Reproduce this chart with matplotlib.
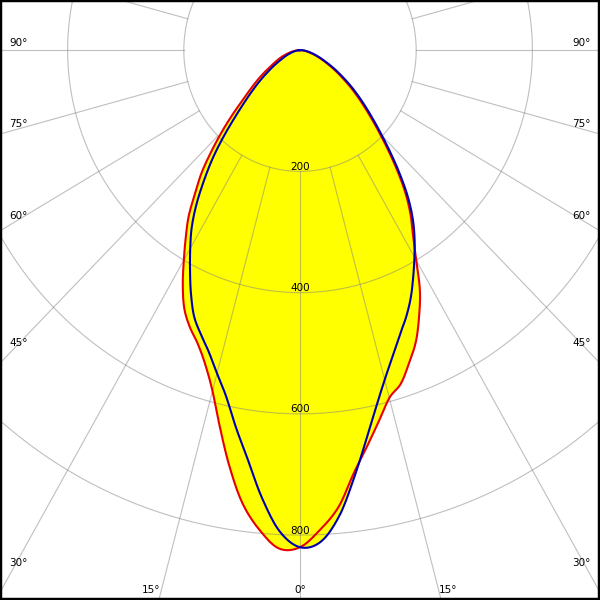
import numpy as np
import matplotlib
matplotlib.use('Agg')
import matplotlib.pyplot as plt
from matplotlib.patches import Rectangle
from matplotlib.transforms import IdentityTransform

# luminous intensity (cd) per gamma angle
gamma = np.arange(0, 92.5, 2.5)
red_left = [820, 823, 795, 755, 698, 637, 582, 543, 515, 495, 471, 437, 400, 366, 334, 296,
            263, 225, 190, 158, 130, 110, 94, 80, 67, 56, 48, 41, 35, 29, 23, 18, 14, 10, 7, 4, 2]
red_right = [820, 792, 757, 705, 664, 627, 594, 577, 549, 521, 485, 447, 400, 362, 332, 299,
             262, 226, 194, 167, 144, 124, 106, 89, 75, 62, 51, 42, 34, 27, 21, 16, 12, 9, 6, 4, 2]
blue_left = [820, 795, 743, 683, 633, 586, 552, 522, 499, 476, 444, 410, 378, 347, 311, 272,
             235, 197, 162, 134, 112, 94, 78, 64, 53, 43, 35, 29, 24, 19, 15, 12, 9, 6, 4, 2, 1]
blue_right = [820, 812, 772, 712, 654, 604, 563, 530, 501, 477, 451, 422, 394, 367, 338, 305,
              268, 232, 200, 173, 150, 130, 112, 95, 80, 67, 55, 45, 37, 30, 24, 19, 15, 11, 8, 5, 3]

rings = [200, 400, 600, 800]
spoke_angles = np.arange(0, 360, 15)
side_labels = [30, 45, 60, 75, 90]
bottom_labels = [15, 0, 15]


def catmull(vals, n=10):
    v = np.asarray(vals, float)
    p = np.concatenate([[v[0]], v, [v[-1]]])
    out = []
    for i in range(len(v) - 1):
        p0, p1, p2, p3 = p[i], p[i + 1], p[i + 2], p[i + 3]
        u = np.linspace(0, 1, n, endpoint=False)
        out.append(0.5 * (2 * p1 + (-p0 + p2) * u + (2 * p0 - 5 * p1 + 4 * p2 - p3) * u ** 2
                          + (-p0 + 3 * p1 - 3 * p2 + p3) * u ** 3))
    out.append([v[-1]])
    return np.concatenate(out)


def curve(left, right):
    ang = np.concatenate([-gamma[::-1], gamma[1:]])
    val = np.concatenate([np.array(left)[::-1], np.array(right)[1:]])
    a = np.radians(catmull(ang))
    r = np.clip(catmull(val), 0, None)
    x, y = r * np.sin(a), -r * np.cos(a)
    return np.append(x, x[0]), np.append(y, y[0])


fig = plt.figure(figsize=(6, 6), dpi=100)
ax = fig.add_axes([0, 0, 1, 1])
ax.set_xlim(-516.4, 516.4)
ax.set_ylim(-907.1, 82.8)
ax.axis('off')

xr, yr = curve(red_left, red_right)
xb, yb = curve(blue_left, blue_right)
ax.fill(xr, yr, color='#ffff00', lw=0, zorder=1)
ax.fill(xb, yb, color='#ffff00', lw=0, zorder=1)

grid = dict(color='#808080', alpha=0.5, lw=0.8, zorder=2)
t = np.linspace(0, 2 * np.pi, 720)
for r in rings:
    ax.plot(r * np.sin(t), r * np.cos(t), **grid)
    ax.annotate(str(r), (0, -r), xytext=(0, 1.5), textcoords='offset pixels',
                ha='center', va='baseline', fontsize=7.5, zorder=4)
for a in np.radians(spoke_angles):
    ax.plot([200 * np.sin(a), 3000 * np.sin(a)], [-200 * np.cos(a), -3000 * np.cos(a)], **grid)

ax.plot(xr, yr, color='#e80000', lw=1.5, zorder=3)
ax.plot(xb, yb, color='#0000b0', lw=1.5, zorder=3)

# angle labels along the frame, placed from the spoke geometry
fig.canvas.draw()
tr = ax.transData
p0 = tr.transform((0, 0))
W, H = 600, 600
for s in side_labels:
    a = np.radians(s)
    for side in (-1, 1):
        p1 = tr.transform((side * 1000 * np.sin(a), -1000 * np.cos(a)))
        xe = 12.5 if side < 0 else W - 12.5
        k = (xe - p0[0]) / (p1[0] - p0[0])
        ye = p0[1] + k * (p1[1] - p0[1])
        ax.text(9 if side < 0 else W - 9, ye + 4, f'{s}°', transform=IdentityTransform(),
                ha='left' if side < 0 else 'right', va='baseline', fontsize=7.5, zorder=4)
for s, side in zip(bottom_labels, (-1, 0, 1)):
    a = np.radians(s) * (side if side else 1)
    p1 = tr.transform((1000 * np.sin(a), -1000 * np.cos(a)))
    yb0 = 3
    k = (yb0 - p0[1]) / (p1[1] - p0[1])
    xe = p0[0] + k * (p1[0] - p0[0])
    ha = {-1: 'right', 0: 'center', 1: 'left'}[side]
    ax.text(xe + (1 if side < 0 else -2 if side > 0 else 0), 7, f'{s}°',
            transform=IdentityTransform(), ha=ha, va='baseline', fontsize=7.5, zorder=4)

ax.add_patch(Rectangle((0, 0), 1, 1, transform=ax.transAxes, fill=False, ec='black',
                       lw=3.2, clip_on=False, zorder=5))

fig.savefig('out.png', dpi=100)
